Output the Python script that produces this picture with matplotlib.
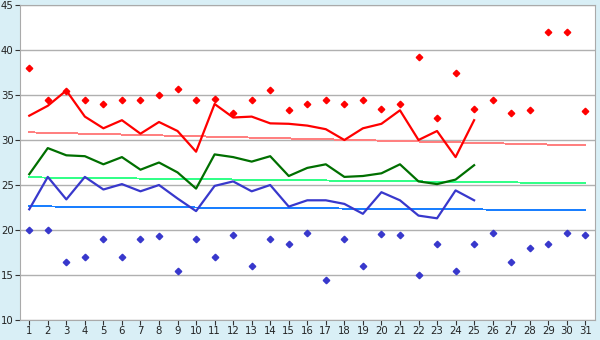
import matplotlib
matplotlib.use('Agg')
import matplotlib.pyplot as plt

days = list(range(1, 32))
line_days = list(range(1, 26))

# daily extremes (diamonds)
max_pts = [38, 34.4, 35.5, 34.5, 34, 34.4, 34.5, 35, 35.7, 34.5,
           34.6, 33, 34.5, 35.6, 33.3, 34, 34.4, 34, 34.4, 33.5,
           34, 39.2, 32.5, 37.5, 33.5, 34.4, 33, 33.3, 42, 42, 33.2]
min_pts = [20, 20, 16.5, 17, 19, 17, 19, 19.3, 15.5, 19,
           17, 19.4, 16, 19, 18.5, 19.7, 14.5, 19, 16, 19.6,
           19.5, 15, 18.5, 15.5, 18.5, 19.7, 16.5, 18, 18.5, 19.7, 19.4]

# daily max / mean / min lines
t_max = [32.7, 33.8, 35.5, 32.6, 31.3, 32.2, 30.7, 32, 31, 28.7,
         34, 32.5, 32.6, 31.85, 31.8, 31.6, 31.2, 30, 31.3, 31.8,
         33.3, 30, 31, 28.1, 32.2]
t_mean = [26.2, 29.1, 28.3, 28.2, 27.3, 28.1, 26.7, 27.5, 26.4, 24.6,
          28.4, 28.1, 27.6, 28.2, 26, 26.9, 27.3, 25.9, 26, 26.3,
          27.3, 25.4, 25.1, 25.6, 27.2]
t_min = [22.3, 25.9, 23.4, 25.9, 24.5, 25.1, 24.3, 25, 23.5, 22.1,
         24.9, 25.4, 24.3, 25, 22.6, 23.3, 23.3, 22.9, 21.8, 24.2,
         23.3, 21.6, 21.3, 24.4, 23.3]

# normals (start / end of month)
norm_days = [1, 31]
norm_max = [30.85, 29.4]
norm_mean = [25.85, 25.2]
norm_min = [22.63, 22.2]

fig = plt.figure(figsize=(6, 3.4), dpi=100, facecolor='#d9eff6')
ax = fig.add_axes([0.0333, 0.0588, 0.9577, 0.9265])
ax.set_facecolor('white')

ax.plot(norm_days, norm_max, color='#ff8080', lw=0.7, antialiased=False, zorder=2)
ax.plot(norm_days, norm_mean, color='#33ff88', lw=0.7, antialiased=False, zorder=2)
ax.plot(norm_days, norm_min, color='#1a7fff', lw=0.7, antialiased=False, zorder=2)

ax.plot(line_days, t_max, color='#ff0000', lw=1.6, zorder=3)
ax.plot(line_days, t_mean, color='#006f00', lw=1.6, zorder=3)
ax.plot(line_days, t_min, color='#3838cc', lw=1.6, zorder=3)

ax.plot(days, max_pts, 'D', color='#ff0000', ms=3.3, mec='#ff0000', zorder=4)
ax.plot(days, min_pts, 'D', color='#3838cc', ms=3.3, mec='#3838cc', zorder=4)

ax.set_xlim(0.5, 31.5)
ax.set_ylim(10, 45)
ax.set_xticks(days)
ax.set_yticks(range(10, 46, 5))
ax.yaxis.grid(True, color='#b0b0b0', lw=1)
ax.set_axisbelow(True)
for s in ax.spines.values():
    s.set_color('#aaaaaa')
ax.tick_params(axis='both', labelsize=7.3, colors='#333333', length=3.5, width=0.8, pad=1)
ax.tick_params(axis='both', labelcolor='#222222')

fig.savefig('out.png', dpi=100, facecolor=fig.get_facecolor())
